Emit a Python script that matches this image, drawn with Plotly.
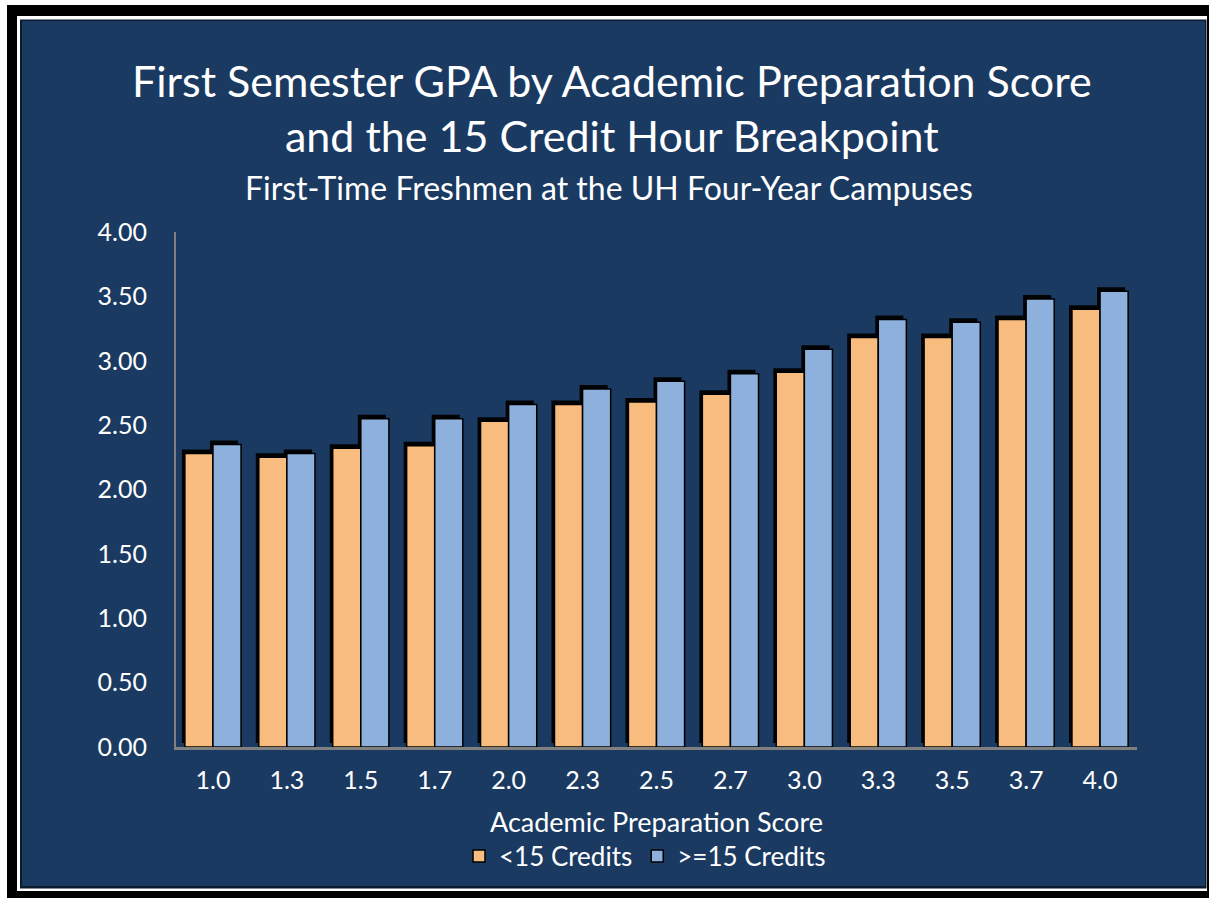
import plotly.graph_objects as go

categories = ["1.0", "1.3", "1.5", "1.7", "2.0", "2.3", "2.5", "2.7", "3.0", "3.3", "3.5", "3.7", "4.0"]
under15 = [2.28, 2.25, 2.32, 2.34, 2.53, 2.66, 2.68, 2.74, 2.91, 3.18, 3.18, 3.32, 3.40]
over15 = [2.35, 2.28, 2.55, 2.55, 2.66, 2.78, 2.84, 2.90, 3.09, 3.32, 3.30, 3.48, 3.54]
series_names = ["<15 Credits", ">=15 Credits"]
y_ticks = [0, 0.5, 1.0, 1.5, 2.0, 2.5, 3.0, 3.5, 4.0]

W, H = 1209, 898
ML, MR, MT, MB = 173, 72, 228, 151
PW = W - ML - MR
PH = H - MT - MB
dx = 3 / PW
dy = 4 / PH

NAVY = "#1B3A62"
ORANGE = "#F8BC7F"
BLUE = "#8DB0DC"
FONT = "Lato"


def px_x(p):
    return (p - ML) / PW


def px_y(p):
    return (H - MB - p) / PH


fig = go.Figure()

# shadow bars (offset up-left) on hidden axes
for vals in (under15, over15):
    fig.add_trace(go.Bar(x=categories, y=vals, xaxis="x", yaxis="y",
                         marker=dict(color="rgba(0,0,0,0.95)", line=dict(width=0)),
                         showlegend=False, hoverinfo="skip"))

# real bars
fig.add_trace(go.Bar(x=categories, y=under15, name=series_names[0], xaxis="x2", yaxis="y2",
                     marker=dict(color=ORANGE, line=dict(color="#000000", width=1.5))))
fig.add_trace(go.Bar(x=categories, y=over15, name=series_names[1], xaxis="x2", yaxis="y2",
                     marker=dict(color=BLUE, line=dict(color="#000000", width=1.5))))

shapes = [
    dict(type="rect", xref="paper", yref="paper", layer="below",
         x0=px_x(7), x1=px_x(1215), y0=px_y(5), y1=px_y(905),
         fillcolor="#000000", line=dict(width=0)),
    dict(type="rect", xref="paper", yref="paper", layer="below",
         x0=px_x(17), x1=px_x(1207), y0=px_y(16), y1=px_y(891),
         fillcolor="#FFFFFF", line=dict(width=0)),
    dict(type="rect", xref="paper", yref="paper", layer="below",
         x0=px_x(20), x1=px_x(1206.5), y0=px_y(19.5), y1=px_y(888.5),
         fillcolor="#0A1B30", line=dict(width=0)),
    dict(type="rect", xref="paper", yref="paper", layer="below",
         x0=px_x(22), x1=px_x(1205), y0=px_y(21), y1=px_y(886),
         fillcolor=NAVY, line=dict(width=0)),
]

annotations = [
    dict(text="First Semester GPA by Academic Preparation Score", xref="paper", yref="paper",
         x=px_x(612), y=px_y(80), showarrow=False, xanchor="center", yanchor="middle",
         font=dict(family=FONT, size=43, color="#FFFFFF")),
    dict(text="and the 15 Credit Hour Breakpoint", xref="paper", yref="paper",
         x=px_x(612), y=px_y(136), showarrow=False, xanchor="center", yanchor="middle",
         font=dict(family=FONT, size=43, color="#FFFFFF")),
    dict(text="First-Time Freshmen at the UH Four-Year Campuses", xref="paper", yref="paper",
         x=px_x(609), y=px_y(188), showarrow=False, xanchor="center", yanchor="middle",
         font=dict(family=FONT, size=32, color="#FFFFFF")),
    dict(text="Academic Preparation Score", xref="paper", yref="paper",
         x=px_x(656), y=px_y(821), showarrow=False, xanchor="center", yanchor="middle",
         font=dict(family=FONT, size=27, color="#FFFFFF")),
]

fig.update_layout(
    width=W, height=H,
    margin=dict(l=ML, r=MR, t=MT, b=MB, pad=0),
    paper_bgcolor="#FFFFFF",
    plot_bgcolor="rgba(0,0,0,0)",
    barmode="group", bargap=0.24, bargroupgap=0,
    font=dict(family=FONT, color="#FFFFFF"),
    shapes=shapes,
    annotations=annotations,
    showlegend=True,
    legend=dict(orientation="h", x=px_x(645), xanchor="center", y=px_y(856), yanchor="middle",
                font=dict(family=FONT, size=26, color="#FFFFFF"), bgcolor="rgba(0,0,0,0)",
                itemwidth=30, tracegroupgap=0),
    xaxis=dict(domain=[0, 1 - dx], type="category", visible=False, anchor="y"),
    yaxis=dict(domain=[dy, 1], range=[0, 4], visible=False, anchor="x"),
    xaxis2=dict(domain=[dx, 1], type="category", anchor="y2",
                showline=True, linecolor="#808080", linewidth=3,
                showgrid=False, ticks="", zeroline=False,
                tickfont=dict(family=FONT, size=25, color="#FFFFFF"),
                ticklabelstandoff=9),
    yaxis2=dict(domain=[0, 1 - dy], range=[0, 4], anchor="x2",
                tickvals=y_ticks, tickformat=".2f",
                showline=True, linecolor="#808080", linewidth=2,
                showgrid=False, ticks="", zeroline=False,
                tickfont=dict(family=FONT, size=25, color="#FFFFFF"),
                ticklabelstandoff=22),
)

fig.write_html("out.html", config={"displayModeBar": False},
               post_script="document.body.style.margin='0';document.body.style.overflow='hidden';")
